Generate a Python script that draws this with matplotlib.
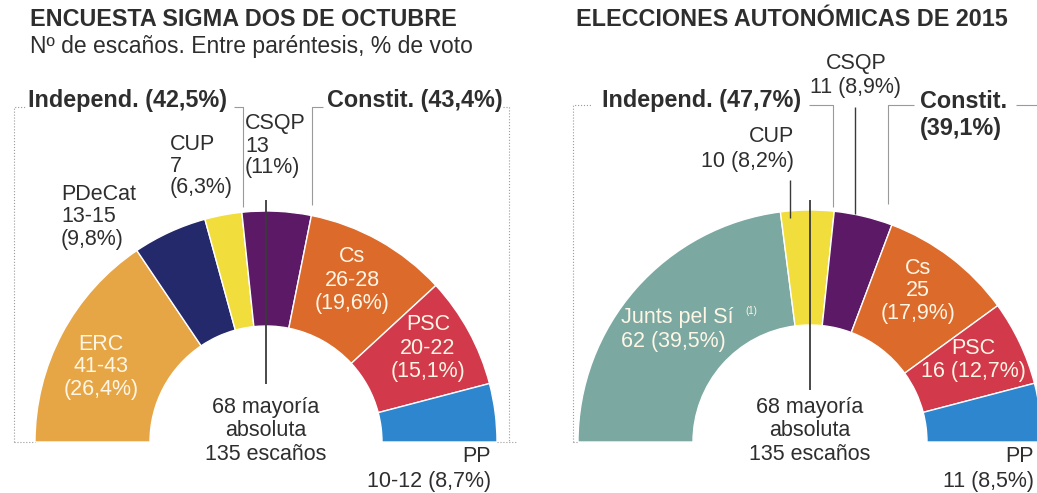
import matplotlib
matplotlib.use("Agg")
import matplotlib.pyplot as plt

plt.rcParams['font.family'] = ['Liberation Sans', 'DejaVu Sans']

# ---- data ----
left_parties = ["ERC", "PDeCat", "CUP", "CSQP", "Cs", "PSC", "PP"]
left_seats = [42, 14, 7, 13, 27, 21, 11]
left_colors = ["#E6A646", "#24296B", "#F1DD3C", "#5C1A66", "#DC6A2B", "#D2394A", "#2E86CE"]

right_parties = ["Junts pel Sí", "CUP", "CSQP", "Cs", "PSC", "PP"]
right_seats = [62, 10, 11, 25, 16, 11]
right_colors = ["#7BA8A1", "#F1DD3C", "#5C1A66", "#DC6A2B", "#D2394A", "#2E86CE"]

total_seats = 135
majority = 68

W, H = 1037, 493
fig = plt.figure(figsize=(W / 100, H / 100), dpi=100)
ax = fig.add_axes([0, 0, 1, 1])


def Y(y):
    return H - y


TXT = "#2e2e2e"
GRAY = "#9a9a9a"
INNER_TXT = "#FFF6E6"
LAB = 15.5
BIG = 16.8


def hemicycle(cx, cy, R, r, seats, colors):
    wedges, _ = ax.pie(seats + [sum(seats)], colors=colors + ["white"],
                       startangle=180, counterclock=False, radius=R,
                       center=(cx, Y(cy)),
                       wedgeprops=dict(width=R - r, edgecolor="white", linewidth=1.0))
    wedges[-1].set_visible(False)


hemicycle(266, 442, 231, 116, left_seats, left_colors)
hemicycle(810, 442, 232, 117, right_seats, right_colors)


def T(x, y, s, size=LAB, weight="normal", ha="left", color=TXT, va="center", **kw):
    ax.text(x, Y(y), s, fontsize=size, fontweight=weight, ha=ha, va=va, color=color, **kw)


def L(xs, ys, color=GRAY, ls="-", lw=0.8):
    ax.plot(xs, [Y(v) for v in ys], color=color, ls=ls, lw=lw, solid_capstyle="butt")


# ---- titles ----
T(30, 20, "ENCUESTA SIGMA DOS DE OCTUBRE", size=BIG, weight="bold")
T(30, 47, "Nº de escaños. Entre paréntesis, % de voto", size=16.5)
T(576, 20, "ELECCIONES AUTONÓMICAS DE 2015", size=BIG, weight="bold")

# ---- left chart brackets ----
T(28, 101, "Independ. (42,5%)", size=BIG, weight="bold")
T(327, 101, "Constit. (43,4%)", size=BIG, weight="bold")
L([14, 14, 26], [442, 107, 107], ls=":")
L([14, 35], [442, 442], ls=":")
L([234, 243, 243], [107, 107, 207], ls="-")
L([323, 312, 312], [107, 107, 205], ls="-")
L([503, 509, 509], [107, 107, 442], ls=":")
L([497, 516], [442, 442], ls=":")

# left labels
for i, s in enumerate(["CUP", "7", "(6,3%)"]):
    T(170, 144 + i * 22, s)
for i, s in enumerate(["CSQP", "13", "(11%)"]):
    T(245, 124 + i * 22, s)
for i, s in enumerate(["PDeCat", "13-15", "(9,8%)"]):
    T(61, 194 + i * 23, s)
for i, s in enumerate(["ERC", "41-43", "(26,4%)"]):
    T(101, 344 + i * 23, s, ha="center", color=INNER_TXT)
for i, s in enumerate(["Cs", "26-28", "(19,6%)"]):
    T(352, 257 + i * 23, s, ha="center", color=INNER_TXT)
for i, s in enumerate(["PSC", "20-22", "(15,1%)"]):
    T(428, 325 + i * 23, s, ha="center", color=INNER_TXT)
T(491, 457, "PP", ha="right")
T(491, 482, "10-12 (8,7%)", ha="right")

L([266, 266], [200, 384], color="#3a3a3a", lw=1.3)
for i, s in enumerate(["68 mayoría", "absoluta", "135 escaños"]):
    T(266, 407 + i * 24, s, ha="center")

# ---- right chart brackets ----
T(602, 101, "Independ. (47,7%)", size=BIG, weight="bold")
T(920, 101, "Constit.", size=BIG, weight="bold")
T(920, 128, "(39,1%)", size=BIG, weight="bold")
L([573, 573, 592], [442, 105, 105], ls=":")
L([573, 578], [442, 442], ls=":")
L([809, 833, 833], [105, 105, 207], ls="-")
L([914, 888, 888], [105, 105, 204], ls="-")
L([1016, 1037], [105, 105], ls="-")

for i, s in enumerate(["CSQP", "11 (8,9%)"]):
    T(856, 63 + i * 25, s, ha="center")
L([855, 855], [107, 214], color="#3a3a3a", lw=1.0)
T(794, 137, "CUP", ha="right")
T(794, 161, "10 (8,2%)", ha="right")
L([790, 790], [180, 218], color="#3a3a3a", lw=1.0)

T(621, 317, "Junts pel Sí", color=INNER_TXT)
T(745, 311, "(1)", size=7, color=INNER_TXT)
T(621, 341, "62 (39,5%)", color=INNER_TXT)
for i, s in enumerate(["Cs", "25", "(17,9%)"]):
    T(918, 268 + i * 23, s, ha="center", color=INNER_TXT)
T(973, 348, "PSC", ha="center", color=INNER_TXT)
T(973, 372, "16 (12,7%)", ha="center", color=INNER_TXT)
T(1034, 457, "PP", ha="right")
T(1034, 482, "11 (8,5%)", ha="right")

L([810, 810], [200, 390], color="#3a3a3a", lw=1.3)
for i, s in enumerate(["68 mayoría", "absoluta", "135 escaños"]):
    T(810, 407 + i * 24, s, ha="center")

ax.set_xlim(0, W)
ax.set_ylim(0, H)
ax.set_aspect("equal")
ax.axis("off")
fig.savefig("out.png", dpi=100, facecolor="white")
